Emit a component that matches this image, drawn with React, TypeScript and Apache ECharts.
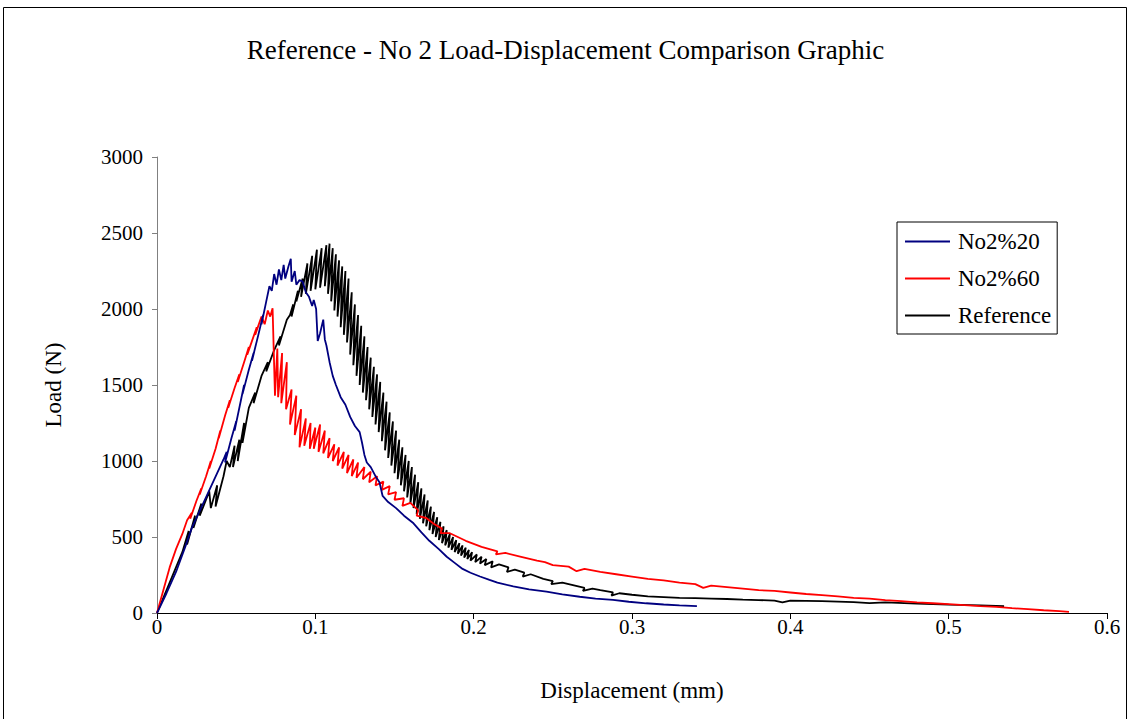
import React, { useEffect, useRef } from "react";
import * as echarts from "echarts";

const titleText = "Reference - No 2 Load-Displacement Comparison Graphic";
const xAxisName = "Displacement (mm)";
const yAxisName = "Load (N)";
const seriesNames = ["No2%20", "No2%60", "Reference"];
const seriesColors = ["#000080", "#FF0000", "#000000"];

// No2%20 (blue)
const blueData: number[][] = [
  [0, 0], [0.006, 130], [0.012, 270], [0.018, 440], [0.022, 560], [0.026, 650], [0.03, 740],
  [0.034, 830], [0.038, 920], [0.042, 1010], [0.044, 1060], [0.043, 990], [0.047, 1150],
  [0.05, 1260], [0.049, 1200], [0.053, 1400], [0.055, 1500], [0.054, 1440], [0.058, 1600],
  [0.061, 1710], [0.06, 1660], [0.064, 1830], [0.067, 1960], [0.066, 1900], [0.069, 2050],
  [0.071, 2150], [0.0725, 2120], [0.074, 2230], [0.0755, 2160], [0.077, 2260], [0.0785, 2190],
  [0.08, 2290], [0.081, 2200], [0.083, 2280], [0.0845, 2330], [0.085, 2180], [0.087, 2250],
  [0.088, 2160], [0.09, 2190], [0.092, 2180], [0.094, 2110], [0.096, 2080], [0.098, 2020],
  [0.099, 2060], [0.1005, 2000], [0.1015, 1790], [0.103, 1840], [0.105, 1930], [0.106, 1800],
  [0.107, 1760], [0.109, 1650], [0.111, 1560], [0.113, 1500], [0.116, 1420], [0.119, 1370],
  [0.122, 1290], [0.125, 1230], [0.128, 1190], [0.1295, 1120], [0.131, 1040], [0.1325, 990],
  [0.135, 960], [0.138, 900], [0.1405, 860], [0.1425, 770], [0.146, 730], [0.151, 690],
  [0.156, 640], [0.162, 590], [0.167, 530], [0.172, 475], [0.178, 420], [0.183, 370],
  [0.188, 330], [0.193, 290], [0.198, 265], [0.204, 240], [0.21, 218], [0.215, 200],
  [0.225, 175], [0.235, 155], [0.246, 140], [0.256, 122], [0.267, 107], [0.277, 95],
  [0.288, 86], [0.298, 74], [0.309, 64], [0.32, 56], [0.33, 50], [0.341, 45],
];

// No2%60 (red)
const redData: number[][] = [
  [0, 0], [0.004, 150], [0.008, 300], [0.012, 420], [0.016, 520], [0.019, 610], [0.022, 660],
  [0.021, 620], [0.025, 740], [0.028, 820], [0.027, 780], [0.031, 900], [0.034, 1000],
  [0.033, 950], [0.037, 1080], [0.04, 1200], [0.039, 1150], [0.043, 1300], [0.046, 1400],
  [0.045, 1350], [0.049, 1480], [0.052, 1570], [0.051, 1520], [0.055, 1650], [0.058, 1750],
  [0.057, 1700], [0.061, 1820], [0.063, 1880], [0.062, 1830], [0.066, 1950], [0.068, 1900],
  [0.07, 1990], [0.0715, 1950], [0.073, 2005], [0.0745, 1430], [0.076, 1740], [0.0765, 1420],
  [0.079, 1710], [0.0785, 1380], [0.082, 1650], [0.0815, 1340], [0.085, 1470], [0.084, 1240],
  [0.088, 1430], [0.087, 1170], [0.091, 1340], [0.09, 1090], [0.094, 1280], [0.093, 1100],
  [0.097, 1250], [0.0965, 1080], [0.1, 1220], [0.099, 1080], [0.103, 1240], [0.102, 1060],
  [0.106, 1200], [0.105, 1050], [0.109, 1150], [0.108, 1020], [0.112, 1110], [0.111, 1000],
  [0.115, 1090], [0.114, 970], [0.118, 1060], [0.117, 950], [0.121, 1040], [0.12, 920],
  [0.124, 1010], [0.123, 900], [0.127, 990], [0.126, 890], [0.131, 960], [0.13, 880],
  [0.135, 930], [0.134, 860], [0.139, 900], [0.138, 840], [0.143, 865], [0.142, 810],
  [0.147, 835], [0.146, 780], [0.151, 795], [0.15, 745], [0.156, 755], [0.155, 705],
  [0.16, 725], [0.165, 675], [0.164, 640], [0.17, 625], [0.175, 585], [0.18, 555],
  [0.179, 525], [0.185, 525], [0.19, 500], [0.195, 475], [0.2, 455], [0.205, 435],
  [0.21, 420], [0.215, 405], [0.214, 385], [0.22, 395], [0.23, 370], [0.24, 345],
  [0.245, 335], [0.25, 315], [0.26, 305], [0.265, 275], [0.27, 290], [0.28, 270],
  [0.29, 255], [0.3, 240], [0.31, 225], [0.32, 215], [0.33, 200], [0.34, 190],
  [0.345, 165], [0.35, 180], [0.36, 170], [0.37, 160], [0.38, 150], [0.39, 145],
  [0.4, 135], [0.41, 125], [0.42, 118], [0.43, 110], [0.44, 100], [0.45, 95],
  [0.46, 85], [0.47, 78], [0.48, 70], [0.49, 64], [0.5, 58], [0.51, 52], [0.52, 45],
  [0.53, 40], [0.54, 32], [0.55, 25], [0.56, 18], [0.57, 12], [0.576, 8],
];

// Reference (black)
const blackData: number[][] = [
  [0, 0], [0.008, 200], [0.016, 400], [0.02, 540], [0.019, 450], [0.024, 640], [0.023, 560],
  [0.028, 720], [0.027, 640], [0.033, 800], [0.034, 690], [0.038, 840], [0.037, 700],
  [0.042, 900], [0.044, 1000], [0.046, 960], [0.049, 1100], [0.048, 960], [0.052, 1140],
  [0.051, 1000], [0.055, 1250], [0.054, 1120], [0.058, 1350], [0.062, 1450], [0.061, 1380],
  [0.066, 1560], [0.07, 1650], [0.069, 1590], [0.074, 1730], [0.078, 1820], [0.077, 1760],
  [0.082, 1930], [0.084, 1960], [0.086, 2030], [0.085, 1950], [0.089, 2120], [0.088, 2050],
  [0.092, 2200], [0.091, 2080], [0.095, 2300], [0.094, 2100], [0.098, 2350], [0.097, 2120],
  [0.101, 2390], [0.1, 2130], [0.104, 2400], [0.103, 2140], [0.107, 2420], [0.106, 2150],
  [0.109, 2430], [0.108, 2100], [0.111, 2400], [0.11, 2050], [0.113, 2360], [0.112, 1990],
  [0.115, 2320], [0.114, 1950], [0.117, 2280], [0.116, 1880], [0.119, 2250], [0.118, 1830],
  [0.121, 2200], [0.12, 1780], [0.123, 2110], [0.122, 1700], [0.125, 2030], [0.124, 1630],
  [0.127, 1960], [0.126, 1560], [0.129, 1890], [0.128, 1500], [0.131, 1820], [0.13, 1450],
  [0.133, 1750], [0.132, 1400], [0.135, 1680], [0.134, 1340], [0.137, 1620], [0.136, 1290],
  [0.139, 1570], [0.138, 1240], [0.141, 1520], [0.14, 1190], [0.143, 1450], [0.142, 1130],
  [0.145, 1390], [0.144, 1070], [0.147, 1320], [0.146, 1020], [0.149, 1260], [0.148, 970],
  [0.151, 1200], [0.15, 920], [0.153, 1140], [0.152, 880], [0.155, 1090], [0.154, 840],
  [0.157, 1040], [0.156, 800], [0.159, 1000], [0.158, 760], [0.161, 960], [0.16, 720],
  [0.163, 910], [0.162, 690], [0.165, 860], [0.164, 650], [0.167, 820], [0.166, 620],
  [0.169, 780], [0.168, 590], [0.171, 740], [0.17, 570], [0.173, 700], [0.172, 545],
  [0.175, 665], [0.174, 520], [0.177, 630], [0.176, 500], [0.179, 600], [0.178, 480],
  [0.181, 570], [0.18, 460], [0.183, 545], [0.182, 445], [0.185, 520], [0.184, 430],
  [0.187, 500], [0.186, 415], [0.189, 480], [0.188, 400], [0.191, 460], [0.19, 390],
  [0.193, 445], [0.192, 378], [0.195, 430], [0.194, 365], [0.197, 415], [0.196, 355],
  [0.199, 400], [0.198, 345], [0.202, 385], [0.201, 335], [0.205, 370], [0.204, 325],
  [0.208, 355], [0.207, 315], [0.212, 340], [0.211, 300], [0.216, 320], [0.222, 300],
  [0.221, 270], [0.226, 285], [0.232, 265], [0.231, 240], [0.236, 255], [0.244, 225],
  [0.25, 210], [0.249, 190], [0.256, 200], [0.264, 180], [0.27, 165], [0.269, 145],
  [0.275, 160], [0.28, 150], [0.288, 135], [0.287, 115], [0.292, 130], [0.3, 120],
  [0.31, 110], [0.32, 105], [0.33, 100], [0.34, 98], [0.35, 95], [0.36, 92], [0.37, 88],
  [0.38, 85], [0.39, 82], [0.395, 70], [0.4, 82], [0.42, 78], [0.44, 72], [0.45, 65],
  [0.46, 70], [0.48, 62], [0.5, 55], [0.52, 50], [0.535, 45],
];

const FONT = "'Liberation Serif', 'Times New Roman', serif";

export default function App() {
  const ref = useRef<HTMLDivElement>(null);
  useEffect(() => {
    if (!ref.current) return;
    const chart = echarts.init(ref.current, undefined, { renderer: "svg" });
    const datasets = [blueData, redData, blackData];
    chart.setOption({
      animation: false,
      backgroundColor: "#ffffff",
      textStyle: { fontFamily: FONT },
      title: {
        text: titleText,
        left: "center",
        top: 31,
        textStyle: { fontFamily: FONT, fontSize: 27, fontWeight: "normal", color: "#000" },
      },
      graphic: [
        {
          type: "rect",
          shape: { x: 3.5, y: 7.5, width: 1123, height: 730 },
          style: { fill: "none", stroke: "#000", lineWidth: 1 },
          silent: true,
        },
      ],
      legend: {
        orient: "vertical",
        left: 897,
        top: 222,
        width: 161,
        padding: [8, 6, 7, 8],
        itemGap: 14,
        itemWidth: 45,
        itemHeight: 23,
        borderColor: "#000",
        borderWidth: 1,
        borderRadius: 0,
        textStyle: { fontFamily: FONT, fontSize: 23, color: "#000", padding: [0, 0, 0, 3] },
        data: seriesNames.map((n) => ({ name: n, icon: "path://M0,0 L45,0 L45,2 L0,2 Z" })),
      },
      grid: { left: 157, right: 24, top: 157, bottom: 106, containLabel: false },
      xAxis: {
        type: "value",
        min: 0,
        max: 0.6,
        interval: 0.1,
        name: xAxisName,
        nameLocation: "middle",
        nameGap: 66,
        nameTextStyle: { fontFamily: FONT, fontSize: 23, color: "#000" },
        axisLine: { show: true, onZero: false, lineStyle: { color: "#000", width: 1 } },
        axisTick: { show: true, inside: false, length: 6, lineStyle: { color: "#000" } },
        axisLabel: { fontFamily: FONT, fontSize: 21, color: "#000", margin: 3 },
        splitLine: { show: false },
      },
      yAxis: {
        type: "value",
        min: 0,
        max: 3000,
        interval: 500,
        name: yAxisName,
        nameLocation: "middle",
        nameGap: 92,
        nameTextStyle: { fontFamily: FONT, fontSize: 23, color: "#000" },
        axisLine: { show: true, lineStyle: { color: "#808080", width: 1 } },
        axisTick: { show: true, inside: false, length: 5, lineStyle: { color: "#808080" } },
        axisLabel: {
          fontFamily: FONT,
          fontSize: 21,
          color: "#000",
          margin: 14,
          formatter: (v: number) => String(v),
        },
        splitLine: { show: false },
      },
      series: seriesNames.map((n, i) => ({
        name: n,
        type: "line",
        data: datasets[i],
        symbol: "none",
        showSymbol: false,
        color: seriesColors[i],
        lineStyle: { color: seriesColors[i], width: 1.8 },
        z: 3 - i,
      })),
    });
    return () => chart.dispose();
  }, []);
  return (
    <div
      ref={ref}
      style={{ position: "fixed", left: 0, top: 0, width: 1131, height: 719, background: "#fff" }}
    />
  );
}
